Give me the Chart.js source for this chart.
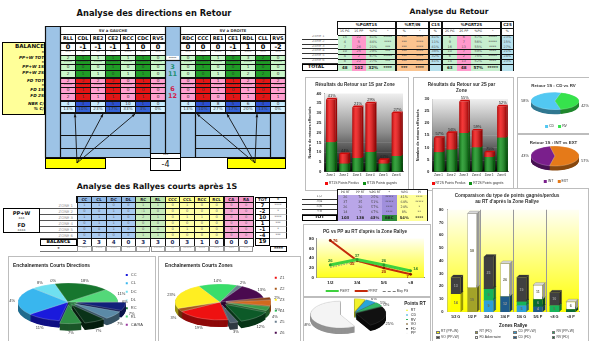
<!DOCTYPE html>
<html lang="fr">
<head>
<meta charset="utf-8">
<title>Analyse du Retour</title>
<script src="https://cdn.jsdelivr.net/npm/chart.js@4.4.1/dist/chart.umd.min.js"></script>
<style>
  html, body { margin: 0; padding: 0; background: #fff; }
  body { width: 589px; height: 341px; position: relative; overflow: hidden; font-family: "DejaVu Sans", Verdana, sans-serif; }
  .abs { position: absolute; box-sizing: border-box; }
  .cell { position: absolute; box-sizing: border-box; font-size: 4.2px; line-height: 1; color: #333;
          display: flex; align-items: center; justify-content: center; overflow: hidden; white-space: nowrap; }
  .txt { position: absolute; white-space: nowrap; line-height: 1; }
  .title { position: absolute; white-space: nowrap; font-weight: bold; font-size: 7.6px; line-height: 9px; transform: translateX(-50%); color: #111; }
  canvas { position: absolute; left: 0; top: 0; }
  svg { position: absolute; left: 0; top: 0; }
</style>
</head>
<body>
<script>
// ---------- Analyse des directions en Retour ----------
const dirColsLeft   = ['RLL', 'CDL', 'RE2', 'CE2', 'RCC', 'CDC', 'RVS'];
const dirColsRight  = ['RDC', 'CCC', 'RE1', 'CE1', 'RDL', 'CLL', 'RVS'];
const dirRowLabels  = ['BALANCE', '*', 'PP+W TOT', '*', 'PP+W 1S', 'PP+W 2S', 'FD TOT', '*', 'FD 1S', 'FD 2S', 'NBR C/', '% C/'];
const ppw1SLeft     = [0, 0, 0, 1, 0, 0, 0];
const ppw2SLeft     = [2, 1, 1, 0, 1, 1, 0];
const fd1SLeft      = [0, 1, 1, 1, 0, 0, 0];
const fd2SLeft      = [2, 1, 1, 1, 0, 1, 0];
const nbrCLeft      = [4, 3, 7, 5, 10, 1, 0];
const balStarsLeft  = ['***', '**', '**', '***', '****', '***', '***'];
const ppwStarsLeft  = ['****', '*****', '****', '*****', '****', '*****', '****'];
const fdStarsLeft   = ['****', '*****', '****', '*****', '****', '*****', '*****'];
const ppw1SRight    = [0, 1, 0, 0, 1, 0, 0];
const ppw2SRight    = [0, 0, 1, 0, 2, 2, 0];
const fd1SRight     = [0, 0, 1, 0, 1, 0, 1];
const fd2SRight     = [0, 1, 0, 1, 1, 2, 1];
const nbrCRight     = [4, 3, 8, 5, 6, 4, 0];
const balStarsRight = ['***', '***', '****', '***', '****', '***', '***'];
const ppwStarsRight = ['****', '*****', '****', '*****', '****', '*****', '****'];
const fdStarsRight  = ['*****', '*****', '****', '*****', '****', '*****', '****'];

// ---------- Analyse des Rallyes courts après 1S ----------
const rallyCols   = ['CC', 'CL', 'DC', 'DL', 'RC', 'RL', 'CCC', 'CCL', 'RCC', 'RCL', 'CA', 'RA'];
const rallyZones  = ['ZONE 1', 'ZONE 2', 'ZONE 3', 'ZONE 4', 'ZONE 5', 'ZONE 6'];
const rallyZone1  = [1, 1, 0, 0, 1, 1, 0, 1, 0, 0, 0, 0];
const rallyZone2  = [0, 0, 1, 0, -1, 0, 0, 0, 0, 0, 0, 0];
const rallyZone3  = [1, 1, 1, 0, 2, 1, 0, 1, 1, 0, 0, 0];
const rallyZone4  = [0, 1, 1, 0, 0, 0, 0, 0, 0, 0, 0, 0];
const rallyZone5  = [0, 0, 1, 0, 0, 0, 0, 1, 0, 0, 0, 0];
const rallyZone6  = [0, 0, 0, 0, 1, 1, 0, 0, 0, 0, 0, 0];
const rallyTot    = [7, -2, 10, 1, -1, -4];
const rallyTotStars = ['****', '*', '****', '***', '*', '***'];
const rallyColStars = ['***', '****', '****', '**', '*****', '*****', '**', '*****', '****', '***', '***', '***'];

// short-rally sequences (the legend lists the first seven directions)
const dirPieLabels = ['CC', 'CL', 'DC', 'DL', 'RC', 'RL', 'CA/RA', 'CCC', 'CCL', 'RCC', 'RCL'];
const dirPieValues = [11, 24, 8, 0, 18, 11, 0, 7, 7, 7, 7];
const zonePieLabels = ['Z1', 'Z2', 'Z3', 'Z4', 'Z5', 'Z6', 'Z1-2', 'Z2-3', 'Z3-4', 'Z4-5', 'Z5-6'];
const zonePieValues = [19, 3, 23, 14, 2, 13, 2, 5, 4, 12, 3];

// ---------- Analyse du Retour ----------
const retourZones = ['Zone 1', 'Zone 2', 'Zone 3', 'Zone 4', 'Zone 5', 'Zone 6'];
const pg1S = [15, 4, 7, 10, 4, 8];
const pp1S = [22, 5, 26, 25, 2, 22];
const pg2S = [8, 9, 16, 10, 6, 14];
const pp2S = [6, 7, 13, 7, 2, 13];
const pg1SStars = ['*****', '****', '***', '***', '*****', '***'];
const pg2SStars = ['*****', '*****', '****', '****', '*****', '****'];
const rtInPct   = ['***', '***', '***', '***', '***', '***'];
const rtInStars = ['****', '****', '****', '****', '****', '****'];
const c1SPct = ['41%', '11%', '41%', '38%', '32%', '41%'];
const c2SPct = ['23%', '15%', '27%', '21%', '24%', '23%'];
const cdVsRvLabels = ['CD', 'RV'];
const cdVsRv = [58, 42];
const intVsExtLabels = ['INT', 'EXT'];
const intVsExt = [43, 57];

const rallyGroups = ['1/2', '3/4', '5/6', '<8'];
const pgRT  = [26, 37, 26, 14];
const ppRT  = [76, 35, 20, 7];
const moyPG = [21, 33, 23, 12];
const pgRTStars = ['*****', '*****', '****', '****'];
const okPct   = ['41%', '64%', '24%', '8%'];
const okStars = ['****', '*****', '*', '**'];

const pointsRTLabels = ['RT', 'CD', 'RV', 'VO', 'FD', 'PP'];
const pointsRTValues = [6, 6, 5, 0, 25, 58];

const zoneRallyeCats = ['1/2 G', '1/2 P', '3/4 G', '3/4 P', '5/6 G', '5/6 P', '<8 G', '<8 P'];
const rtPPW  = [14, 0, 0, 0, 0, 0, 0, 0];
const rtFD   = [0, 19, 0, 0, 0, 0, 0, 0];
const cdPPW  = [0, 0, 9, 0, 5, 0, 0, 0];
const rvPPW  = [0, 0, 9, 0, 3, 0, 5, 0];
const cdFD   = [0, 0, 0, 12, 0, 4, 0, 0];
const rvFD   = [0, 0, 0, 0, 0, 6, 0, 2];
const voPPW  = [13, 0, 25, 0, 19, 0, 10, 0];
const fdAdv  = [0, 58, 0, 26, 0, 11, 0, 6];
const pointTypeLegend = ['RT (PP+W)', 'RT (FD)', 'CD (PP+W)', 'RV (PP+W)', 'VO (PP+W)', 'FD Adversaire', 'CD (FD)', 'RV (FD)'];

// ---------- helpers ----------
const sum = a => a.reduce((s, v) => s + v, 0);
const add = (a, b) => a.map((v, i) => v + b[i]);
const sub = (a, b) => a.map((v, i) => v - b[i]);
const pct = (a, b) => Math.round(a / b * 100) + '%';
const FONT = '"Liberation Sans", Arial, sans-serif';

function el(tag, cls, css, text, parent) {
  const d = document.createElement(tag);
  if (cls) d.className = cls;
  if (css) d.style.cssText = css;
  if (text != null) d.textContent = text;
  (parent || document.body).appendChild(d);
  return d;
}
function rect(x, y, w, h, css) {
  return el('div', 'abs', `left:${x}px;top:${y}px;width:${w}px;height:${h}px;${css || ''}`);
}
function cell(x, y, w, h, text, bg, css) {
  return el('div', 'cell', `left:${x}px;top:${y}px;width:${w}px;height:${h}px;background:${bg || 'transparent'};${css || ''}`, text);
}
function title(cx, y, t, size) {
  return el('div', 'title', `left:${cx}px;top:${y}px;font-size:${size}px;`, t);
}
function shade(c, f) {
  const m = /^#([0-9a-f]{6})$/i.exec(c);
  if (!m) return c;
  const n = parseInt(m[1], 16);
  const ch = s => Math.max(0, Math.min(255, Math.round(((n >> s) & 255) * f)));
  return `rgb(${ch(16)},${ch(8)},${ch(0)})`;
}
function isDark(c) {
  const m = /^#([0-9a-f]{6})$/i.exec(c);
  if (!m) return false;
  const n = parseInt(m[1], 16);
  return (0.3 * ((n >> 16) & 255) + 0.59 * ((n >> 8) & 255) + 0.11 * (n & 255)) < 110;
}
// one-row legend centred on cx, built from the chart's own labels and colours
function legendRow(items, cx, y, o) {
  const wrap = el('div', 'txt', `left:${cx}px;top:${y}px;display:flex;align-items:center;gap:${o.gap}px;transform:translateX(-50%);font-size:${o.size}px;color:#333;font-family:${FONT};`);
  items.forEach(it => {
    const s = el('span', null, 'display:flex;align-items:center;gap:1px;', null, wrap);
    const sw = it.dash
      ? `width:${o.bw}px;height:0;border-top:${o.bh}px dashed ${it.color};`
      : `width:${o.bw}px;height:${o.bh}px;background:${it.color};`;
    el('span', null, `display:inline-block;${sw}`, null, s);
    el('span', null, '', it.text, s);
  });
}
const datasetItems = chart => chart.data.datasets.map(d => ({ text: d.label, color: chart.config.type === 'line' ? d.borderColor : d.backgroundColor, dash: !!d.borderDash }));
const sliceItems = chart => chart.data.labels.map((l, i) => ({ text: l, color: chart.data.datasets[0].backgroundColor[i] }));

// ---------- Chart.js plugins ----------
Chart.defaults.font.family = FONT;
Chart.defaults.color = '#222';
Chart.defaults.animation = false;
const noGrid = { display: false, drawTicks: false };

// gradient plot background + optional group separators
const plotBg = {
  id: 'plotBg',
  beforeDatasetsDraw(chart, args, o) {
    if (!o || !o.stops) return;
    const { ctx, chartArea: a } = chart;
    const g = ctx.createLinearGradient(0, a.top, 0, a.bottom);
    o.stops.forEach(([p, c]) => g.addColorStop(p, c));
    ctx.save();
    ctx.fillStyle = g;
    ctx.fillRect(a.left, a.top, a.right - a.left, a.bottom - a.top);
    if (o.lines) {
      const ys = chart.scales.y;
      ctx.strokeStyle = o.lineColor;
      ctx.lineWidth = 0.6;
      o.lines.forEach(v => {
        const y = Math.round(ys.getPixelForValue(v)) + 0.5;
        ctx.beginPath(); ctx.moveTo(a.left, y); ctx.lineTo(a.right, y); ctx.stroke();
      });
    }
    if (o.separators) {
      const xs = chart.scales.x;
      ctx.strokeStyle = o.sepColor || '#9a9a9a';
      ctx.lineWidth = 1;
      o.separators.forEach(v => {
        const x = Math.round((xs.getPixelForValue(Math.floor(v)) + xs.getPixelForValue(Math.ceil(v))) / 2) + 0.5;
        ctx.beginPath(); ctx.moveTo(x, a.top); ctx.lineTo(x, a.bottom); ctx.stroke();
      });
    }
    ctx.restore();
  }
};

// side and top faces that give the bars some depth, plus an optional rounded shading
const bar3d = {
  id: 'bar3d',
  beforeDatasetsDraw(chart, args, o) {
    if (!o || !o.depth) return;
    const ctx = chart.ctx, d = o.depth;
    ctx.save();
    chart.getSortedVisibleDatasetMetas().forEach(meta => {
      const ds = chart.data.datasets[meta.index];
      meta.data.forEach((bar, i) => {
        if (!ds.data[i]) return;
        const { x, y, base, width } = bar.getProps(['x', 'y', 'base', 'width'], true);
        const l = x - width / 2, r = x + width / 2;
        const col = ds.backgroundColor;
        ctx.fillStyle = shade(col, 0.62);
        ctx.beginPath(); ctx.moveTo(r, y); ctx.lineTo(r + d, y - d); ctx.lineTo(r + d, base - d); ctx.lineTo(r, base); ctx.closePath(); ctx.fill();
        if (o.edge) { ctx.strokeStyle = o.edge; ctx.lineWidth = 0.4; ctx.stroke(); }
        ctx.fillStyle = shade(col, 0.85);
        ctx.beginPath(); ctx.moveTo(l, y); ctx.lineTo(l + d, y - d); ctx.lineTo(r + d, y - d); ctx.lineTo(r, y); ctx.closePath(); ctx.fill();
        if (o.edge) ctx.stroke();
      });
    });
    ctx.restore();
  },
  afterDatasetsDraw(chart, args, o) {
    if (!o || !o.round) return;
    const ctx = chart.ctx;
    ctx.save();
    chart.getSortedVisibleDatasetMetas().forEach(meta => {
      const ds = chart.data.datasets[meta.index];
      meta.data.forEach((bar, i) => {
        if (!ds.data[i]) return;
        const { x, y, base, width } = bar.getProps(['x', 'y', 'base', 'width'], true);
        const l = x - width / 2;
        const g = ctx.createLinearGradient(l, 0, l + width, 0);
        g.addColorStop(0, 'rgba(0,0,0,0.28)');
        g.addColorStop(0.35, 'rgba(255,255,255,0.18)');
        g.addColorStop(1, 'rgba(0,0,0,0.35)');
        ctx.fillStyle = g;
        ctx.fillRect(l, y, width, base - y);
      });
    });
    ctx.restore();
  }
};

// percentage of points won written above each stacked column
const stackPct = {
  id: 'stackPct',
  afterDatasetsDraw(chart, args, o) {
    if (!o || o.gain == null) return;
    const ctx = chart.ctx;
    const g = chart.data.datasets[o.gain].data, p = chart.data.datasets[o.loss].data;
    const bars = chart.getDatasetMeta(o.loss).data;
    ctx.save();
    ctx.font = `4px ${FONT}`;
    ctx.fillStyle = o.color || '#222';
    ctx.textAlign = 'center';
    ctx.textBaseline = 'bottom';
    bars.forEach((b, i) => {
      const t = g[i] + p[i];
      if (t) ctx.fillText(pct(g[i], t), b.x + 1, b.y - 1.5);
    });
    ctx.restore();
  }
};

// value written inside each stacked segment
const segLabels = {
  id: 'segLabels',
  afterDatasetsDraw(chart, args, o) {
    if (!o || !o.min) return;
    const ctx = chart.ctx;
    ctx.save();
    ctx.font = `bold 3.6px ${FONT}`;
    ctx.textAlign = 'center';
    ctx.textBaseline = 'middle';
    chart.getSortedVisibleDatasetMetas().forEach(meta => {
      const ds = chart.data.datasets[meta.index];
      meta.data.forEach((bar, i) => {
        const v = ds.data[i];
        if (!v || v < o.min) return;
        const { x, y, base } = bar.getProps(['x', 'y', 'base'], true);
        ctx.fillStyle = isDark(ds.backgroundColor) ? '#9a9a9a' : '#6a6a50';
        ctx.fillText(v, x, (y + base) / 2);
      });
    });
    ctx.restore();
  }
};

// values next to the points of the line chart
const lineLabels = {
  id: 'lineLabels',
  afterDatasetsDraw(chart, args, o) {
    if (!o || !o.sets) return;
    const ctx = chart.ctx;
    ctx.save();
    ctx.font = `bold 4.2px ${FONT}`;
    ctx.textAlign = 'center';
    ctx.textBaseline = 'middle';
    o.sets.forEach(s => {
      const ds = chart.data.datasets[s.index];
      chart.getDatasetMeta(s.index).data.forEach((pt, i) => {
        ctx.fillStyle = s.color;
        const off = s.offsets[i];
        ctx.fillText(ds.data[i], pt.x + off[0], pt.y + off[1]);
      });
    });
    ctx.restore();
  }
};

// tilted pie with a visible rim, exploded slices and % labels
const pie3d = {
  id: 'pie3d',
  beforeDatasetsDraw(chart, args, o) {
    if (!o || !o.tilt) return;
    const ctx = chart.ctx;
    const ds = chart.data.datasets[0];
    const arcs = chart.getDatasetMeta(0).data;
    if (!arcs.length) return;
    const tilt = o.tilt, depth = o.depth || 0;
    const explode = ds.explode || [];
    const colors = ds.backgroundColor;
    const cx = o.center ? o.center[0] : arcs[0].x, cy = o.center ? o.center[1] : arcs[0].y;
    const wedge = (a, i, dy) => {
      const mid = (a.startAngle + a.endAngle) / 2, e = explode[i] || 0;
      const ox = Math.cos(mid) * e, oy = Math.sin(mid) * e + dy;
      ctx.beginPath();
      ctx.moveTo(ox, oy);
      ctx.arc(ox, oy, a.outerRadius, a.startAngle, a.endAngle);
      ctx.closePath();
    };
    ctx.save();
    ctx.translate(cx, cy);
    ctx.scale(1, tilt);
    for (let d = depth; d > 0; d -= 0.5) {
      arcs.forEach((a, i) => {
        if (a.endAngle - a.startAngle <= 0) return;
        wedge(a, i, d / tilt);
        ctx.fillStyle = shade(colors[i], o.sideShade || 0.6);
        ctx.fill();
      });
    }
    arcs.forEach((a, i) => {
      if (a.endAngle - a.startAngle <= 0) return;
      wedge(a, i, 0);
      ctx.fillStyle = colors[i];
      ctx.fill();
      ctx.strokeStyle = o.edge || 'rgba(255,255,255,0.6)';
      ctx.lineWidth = 0.5;
      ctx.stroke();
    });
    ctx.restore();
    const total = sum(ds.data);
    ctx.save();
    ctx.font = `${o.labelSize || 4}px ${FONT}`;
    ctx.fillStyle = o.labelColor || '#333';
    ctx.textAlign = 'center';
    ctx.textBaseline = 'middle';
    arcs.forEach((a, i) => {
      const mid = (a.startAngle + a.endAngle) / 2, e = explode[i] || 0;
      const r = a.outerRadius + e + (o.labelGap || 6);
      const x = cx + Math.cos(mid) * r;
      let y = cy + Math.sin(mid) * r * tilt;
      if (Math.sin(mid) > 0) y += depth;
      ctx.fillText(pct(ds.data[i], total), x, y);
    });
    ctx.restore();
    return false;
  }
};
Chart.register(plotBg, bar3d, stackPct, segLabels, lineLabels, pie3d);

function chartBox(x, y, w, h, config, border) {
  const box = rect(x, y, w, h, `background:#fff;border:1px solid ${border || '#bdbdbd'};`);
  const c = document.createElement('canvas');
  c.width = w - 2; c.height = h - 2;
  c.style.width = (w - 2) + 'px'; c.style.height = (h - 2) + 'px';
  box.appendChild(c);
  config.options = Object.assign({ responsive: false, animation: false, devicePixelRatio: 1, events: [] }, config.options);
  return new Chart(c, config);
}

// ======================= LEFT : directions =======================
title(154, 9, 'Analyse des directions en Retour', 8.3);

rect(45, 26, 240, 131, 'background:#9dc3e6;');

// yellow label block
rect(2, 42, 43, 73, 'background:#ffff99;border:1px solid #000;');
const dirRowY = [43, 50, 55, 60, 64, 70, 78, 83, 87, 93, 101, 106];
const dirRowH = [7, 5, 5, 4, 6, 7, 5, 4, 6, 7, 5, 6];
dirRowLabels.forEach((lab, r) => {
  const big = r === 0;
  el('div', 'txt', `right:${589 - 44}px;top:${dirRowY[r] + (big ? 0.5 : 0.8)}px;font-size:${big ? 5.6 : 4.2}px;font-weight:bold;font-style:${big ? 'normal' : 'italic'};color:#111;`, lab);
});

function dirTable(x0, cols, head, d) {
  const cw = 15, w = cw * cols.length;
  rect(x0, 26, w + 1, 87, 'background:#111;');
  cell(x0 + 1, 27, w - 1, 7, head, '#fff', 'font-weight:bold;font-size:3.8px;');
  cols.forEach((c, i) => cell(x0 + 1 + i * cw, 35, cw - 1, 7, c, '#fff', 'font-weight:bold;font-size:5px;color:#111;'));
  const ppwTot = add(d.ppw1, d.ppw2), fdTot = add(d.fd1, d.fd2), bal = sub(ppwTot, fdTot);
  const nTot = sum(d.nbr);
  const rows = [
    [bal, 'w'], [d.balStars, 'w'], [ppwTot, 'g'], [d.ppwStars, 'g'], [d.ppw1, 'g'], [d.ppw2, 'g'],
    [fdTot, 'r'], [d.fdStars, 'r'], [d.fd1, 'r'], [d.fd2, 'r'], [d.nbr, 'b'], [d.nbr.map(v => pct(v, nTot)), 'c']
  ];
  const pal = { w: ['#fff', '#fff'], g: ['#c9f7c9', '#1f9c25'], r: ['#ff9fcf', '#e31515'], b: ['#c8ecff', '#2b4fd1'], c: ['#d9f3ff', '#3563d6'] };
  rows.forEach(([vals, k], r) => {
    vals.forEach((v, i) => {
      const bg = pal[k][i % 2];
      const css = r === 0 ? 'font-weight:bold;font-size:6.5px;color:#000;' : (bg === '#fff' ? 'font-size:3.6px;color:#555;' : 'color:#333;');
      cell(x0 + 1 + i * cw, dirRowY[r] + 1, cw - 1, dirRowH[r] - 1, String(v), bg, css);
    });
  });
}
dirTable(60, dirColsLeft, 'SV à GAUCHE', { ppw1: ppw1SLeft, ppw2: ppw2SLeft, fd1: fd1SLeft, fd2: fd2SLeft, nbr: nbrCLeft, balStars: balStarsLeft, ppwStars: ppwStarsLeft, fdStars: fdStarsLeft });
dirTable(180, dirColsRight, 'SV à DROITE', { ppw1: ppw1SRight, ppw2: ppw2SRight, fd1: fd1SRight, fd2: fd2SRight, nbr: nbrCRight, balStars: balStarsRight, ppwStars: ppwStarsRight, fdStars: fdStarsRight });

// centre column: totals of the two sides
const ppw1STotal = sum(ppw1SLeft) + sum(ppw1SRight), ppw2STotal = sum(ppw2SLeft) + sum(ppw2SRight);
const fd1STotal = sum(fd1SLeft) + sum(fd1SRight), fd2STotal = sum(fd2SLeft) + sum(fd2SRight);
cell(166, 56, 13, 4, '*****', '#fff', 'font-size:3px;');
cell(166, 64, 13, 7, String(ppw1STotal), 'transparent', 'font-weight:bold;font-size:6.5px;color:#1f8f6f;');
cell(166, 71, 13, 7, String(ppw2STotal), 'transparent', 'font-weight:bold;font-size:6.5px;color:#1f8f6f;');
cell(166, 86, 13, 7, String(fd1STotal), 'transparent', 'font-weight:bold;font-size:6.5px;color:#d0204a;');
cell(166, 93, 13, 7, String(fd2STotal), 'transparent', 'font-weight:bold;font-size:6.5px;color:#d0204a;');

// balance box under the centre column
rect(150, 153, 31, 18, 'background:#fff;border:1px solid #000;');
cell(151, 154, 29, 5, '***', '#fff', 'font-size:3.5px;border-bottom:1px solid #000;');
cell(151, 159, 29, 11, String(ppw1STotal + ppw2STotal - fd1STotal - fd2STotal), '#fff', 'font-size:8px;color:#111;');

// yellow targets
rect(45, 158, 61, 11, 'background:#ffff00;border:1px solid #000;');
rect(227, 158, 59, 11, 'background:#ffff00;border:1px solid #000;');

// frame lines and arrows of the direction diagram
(function () {
  const NS = 'http://www.w3.org/2000/svg';
  const svg = document.createElementNS(NS, 'svg');
  svg.setAttribute('width', 589); svg.setAttribute('height', 341);
  const line = (x1, y1, x2, y2, w) => {
    const l = document.createElementNS(NS, 'line');
    l.setAttribute('x1', x1); l.setAttribute('y1', y1); l.setAttribute('x2', x2); l.setAttribute('y2', y2);
    l.setAttribute('stroke', '#111'); l.setAttribute('stroke-width', w || 1);
    svg.appendChild(l);
  };
  [[45.5, 26, 45.5, 158], [60.5, 26, 60.5, 158], [165.5, 26, 165.5, 153], [180.5, 26, 180.5, 153], [285.5, 26, 285.5, 158],
   [150.5, 113, 150.5, 153], [195.5, 113, 195.5, 158], [270.5, 113, 270.5, 158]].forEach(a => line(...a, 1.2));
  [[45, 26.5, 286, 26.5], [60, 113.5, 165, 113.5], [180, 113.5, 285, 113.5], [60, 135.5, 150, 135.5], [60, 148.5, 150, 148.5],
   [195, 135.5, 270, 135.5], [195, 148.5, 270, 148.5], [45, 157.5, 150, 157.5], [180, 157.5, 286, 157.5], [165, 60.5, 180, 60.5]].forEach(a => line(...a, 1.2));
  const arrow = (x1, y1, x2, y2) => {
    line(x1, y1, x2, y2, 0.9);
    const ang = Math.atan2(y2 - y1, x2 - x1), s = 3.5;
    const p = document.createElementNS(NS, 'path');
    p.setAttribute('d', `M${x2},${y2} L${x2 - s * Math.cos(ang - 0.4)},${y2 - s * Math.sin(ang - 0.4)} L${x2 - s * Math.cos(ang + 0.4)},${y2 - s * Math.sin(ang + 0.4)} Z`);
    p.setAttribute('fill', '#111');
    svg.appendChild(p);
  };
  [[75, 114], [103, 114], [135, 114]].forEach(([x, y]) => arrow(77, 163, x, y));
  [[197, 114], [227, 114], [257, 114]].forEach(([x, y]) => arrow(255, 163, x, y));
  document.body.appendChild(svg);
})();

// ======================= LEFT : rallyes courts =======================
title(157, 182, 'Analyse des Rallyes courts après 1S', 7.9);

(function () {
  const x0 = 77, cw = 14.7, zones = [rallyZone1, rallyZone2, rallyZone3, rallyZone4, rallyZone5, rallyZone6];
  const grp = ['b', 'b', 'b', 'b', 'g', 'g', 'y', 'y', 'y', 'y', 'p', 'p'];
  const head = { b: '#8fb8e6', g: '#b9e3a9', y: '#ffff8a', p: '#f597c9' };
  const body = { b: '#a9cbf0', g: '#c8ecbc', y: '#ffffa6', p: '#f8a9d3' };
  const balance = rallyCols.map((c, i) => sum(zones.map(z => z[i])));
  rect(x0 - 1, 196, cw * 12 + 2, 51, 'background:#111;');
  rallyCols.forEach((c, i) => cell(x0 + i * cw + 0.5, 197, cw - 1, 5, c, head[grp[i]], 'font-weight:bold;font-size:4px;color:#223;'));
  zones.forEach((z, r) => {
    cell(40, 203 + r * 6, 37, 6, rallyZones[r], '#fff', 'font-size:3.8px;color:#999;justify-content:flex-end;padding-right:4px;border-bottom:1px solid #555;');
    z.forEach((v, i) => cell(x0 + i * cw + 0.5, 203 + r * 6, cw - 1, 5, String(v), body[grp[i]], 'font-size:3.6px;color:#667;'));
    cell(255, 203 + r * 6, 15, 6, String(rallyTot[r]), '#fff', 'font-weight:bold;font-size:5.2px;color:#111;border:1px solid #000;border-top:none;');
    cell(270, 203 + r * 6, 17, 6, rallyTotStars[r], '#fff', 'font-size:3.4px;color:#777;border-right:1px solid #000;border-bottom:1px solid #bbb;');
  });
  cell(255, 197, 15, 6, 'TOT', '#fff', 'font-weight:bold;font-size:4px;border:1px solid #000;');
  cell(270, 197, 17, 6, '*', '#fff', 'font-weight:bold;font-size:4px;border:1px solid #000;border-left:none;');
  cell(40, 239, 37, 7, 'BALANCE', '#fff', 'font-weight:bold;font-size:4.6px;color:#000;border:1px solid #000;');
  balance.forEach((v, i) => cell(x0 + i * cw + 0.5, 239, cw - 1, 7, String(v), '#fff', 'font-weight:bold;font-size:5.5px;color:#1a2a5a;'));
  cell(255, 239, 15, 7, String(sum(balance)), '#fff', 'font-weight:bold;font-size:5.5px;color:#000;border:1px solid #000;border-top:none;');
  cell(40, 246, 37, 6, '*', '#fff', 'font-weight:bold;font-size:4px;border-bottom:1px solid #777;');
  rallyColStars.forEach((s, i) => cell(x0 + i * cw, 246, cw, 6, s, '#fff', 'font-size:3.2px;color:#888;border:0.5px solid #999;'));
  cell(270, 246, 17, 6, '****', '#fff', 'font-weight:bold;font-size:4.4px;color:#111;border:1px solid #000;');

  const lg = rect(3, 208, 37, 25, 'background:#fff;border:1px solid #000;');
  [['PP+W', 'bold 5.2px', 1], ['***', '4px', 7], ['FD', 'bold 5.2px', 12.5], ['****', '4px', 18.5]].forEach(([t, f, y]) =>
    el('div', 'txt', `left:0;width:35px;text-align:center;top:${y}px;font:${f} "DejaVu Sans",sans-serif;color:#111;`, t, lg));
})();

// ---------- pies of the short rallies ----------
chartBox(8, 256, 148, 130, {
  type: 'pie',
  data: { labels: dirPieLabels, datasets: [{ data: dirPieValues,
    backgroundColor: ['#1a1adc', '#39b6ee', '#6fe0f0', '#c9f4f6', '#17762e', '#53d879', '#9a3a9e', '#12207a', '#5b8aa6', '#0a3319', '#2f8f45'],
    explode: [0, 0, 0, 0, 0, 0, 0, 8, 8, 8, 7] }] },
  options: {
    radius: 50, rotation: 190,
    layout: { padding: { left: 4, right: 2, top: 0, bottom: 0 } },
    plugins: {
      title: { display: true, text: 'Enchaînements Courts Directions', align: 'start', font: { size: 4.8, weight: 'bold' }, padding: { top: 6, bottom: 0 } },
      legend: { position: 'right', align: 'start', fullSize: false, labels: { boxWidth: 4, boxHeight: 4, font: { size: 4 }, color: '#444', padding: 4.3, filter: item => item.index < 7 } },
      pie3d: { tilt: 0.38, depth: 7, labelGap: 7, center: [59, 45] }
    }
  }
});
chartBox(158, 256, 143, 180, {
  type: 'pie',
  data: { labels: zonePieLabels, datasets: [{ data: zonePieValues,
    backgroundColor: ['#ee1111', '#a8581a', '#ffee22', '#39dd6a', '#6b7f8f', '#4a0a4f', '#8a3a10', '#d2691e', '#3a9a4a', '#0d5a28', '#506070'],
    explode: [0, 0, 0, 0, 0, 0, 6, 6, 6, 8, 8] }] },
  options: {
    radius: 45, rotation: 170,
    layout: { padding: { left: 6, right: 2, top: 0, bottom: 0 } },
    plugins: {
      title: { display: true, text: 'Enchaînements Courts Zones', align: 'start', font: { size: 4.8, weight: 'bold' }, padding: { top: 6, bottom: 0 } },
      legend: { position: 'right', align: 'start', fullSize: false, labels: { boxWidth: 4, boxHeight: 4, font: { size: 4 }, color: '#444', padding: 7 } },
      pie3d: { tilt: 0.4, depth: 7, labelGap: 7, center: [61, 45] }
    }
  }
});

// ======================= RIGHT : retour =======================
title(449, 7, 'Analyse du Retour', 7.6);

(function () {
  const rowsY = [35, 39.8, 44.6, 49.4, 54.2, 59];
  const G = '#c6efce', P = '#ff99cc', O = '#fbc48f', B = '#b7e1ed';
  const groups = [
    { x: 338, ws: [14, 14, 15, 14], head: '%PGRT1S', sub: ['1S PG', '1S PP', '%PG', '*'], bg: [G, P, G, G] },
    { x: 397, ws: [15, 16], head: '%RT/IN', sub: ['%', '*'], bg: [O, O] },
    { x: 430, ws: [11], head: 'C1S', sub: ['%'], bg: [B] },
    { x: 443, ws: [14, 14, 15, 14], head: '%PGRT2S', sub: ['2S PG', '2S PP', '%PG', '*'], bg: [G, P, G, G] },
    { x: 502, ws: [11], head: 'C2S', sub: ['%'], bg: [B] }
  ];
  const cols = [
    [pg1S, pp1S, pg1S.map((v, i) => pct(v, v + pp1S[i])), pg1SStars],
    [rtInPct, rtInStars],
    [c1SPct],
    [pg2S, pp2S, pg2S.map((v, i) => pct(v, v + pp2S[i])), pg2SStars],
    [c2SPct]
  ];
  const totals = [
    [sum(pg1S), sum(pp1S), pct(sum(pg1S), sum(pg1S) + sum(pp1S)), '****'],
    ['***', '****'], [''],
    [sum(pg2S), sum(pp2S), pct(sum(pg2S), sum(pg2S) + sum(pp2S)), '*****'], ['']
  ];
  groups.forEach((g, gi) => {
    const w = sum(g.ws);
    rect(g.x - 1, 21, w + 2, 50, 'background:#111;');
    cell(g.x, 22, w, 6, g.head, '#fff', 'font-weight:bold;font-size:4px;color:#111;');
    let x = g.x;
    g.ws.forEach((cw, ci) => {
      cell(x, 28.5, cw - 0.5, 6, g.sub[ci], '#fff', 'font-size:3.2px;color:#333;');
      cols[gi][ci].forEach((v, r) => cell(x, rowsY[r] + 0.5, cw - 0.5, 4.3, String(v), g.bg[ci], 'font-size:3.4px;color:#555;'));
      cell(x, 64.5, cw - 0.5, 6, String(totals[gi][ci]), g.bg[ci], 'font-weight:bold;font-size:4px;color:#222;');
      x += cw;
    });
  });
  retourZones.forEach((z, r) => cell(302, rowsY[r], 36, 4.8, z, '#fff', 'font-size:3.6px;color:#888;justify-content:flex-start;padding-left:10px;border-bottom:1px solid #333;'));
  cell(302, 64, 36, 7, 'TOTAL', '#fff', 'font-weight:bold;font-size:4.6px;color:#111;justify-content:flex-start;padding-left:5px;border:1px solid #000;');
})();

function retourBar(x, w, titleText, gains, losses, max, n) {
  const ch = chartBox(x, 77, w, 114, {
    type: 'bar',
    data: { labels: retourZones, datasets: [
      { label: `RT${n}S Points gagnés`, data: gains, backgroundColor: '#0d8f16', stack: 's' },
      { label: `RT${n}S Points Perdus`, data: losses, backgroundColor: '#f20c0c', stack: 's' }
    ] },
    options: {
      layout: { padding: { left: 1, right: 5, top: 0, bottom: 11 } },
      datasets: { bar: { barPercentage: 0.72, categoryPercentage: 1 } },
      scales: {
        x: { stacked: true, grid: noGrid, border: { color: '#777' }, ticks: { font: { size: 2.8 }, padding: 2, maxRotation: 0, autoSkip: false } },
        y: { stacked: true, min: 0, max, border: { color: '#777' }, grid: noGrid,
             ticks: { stepSize: 5, font: { size: 4.2, weight: 'bold' }, padding: 3 },
             title: { display: true, text: 'Nombre de retours effectués', font: { size: 3.8, weight: 'bold' }, padding: 1 } }
      },
      plugins: {
        title: { display: true, text: titleText, font: { size: 4.6, weight: 'bold' }, padding: { top: 4, bottom: 6 }, color: '#333' },
        legend: { display: false },
        plotBg: { stops: [[0, '#efefef'], [0.5, '#8c8c8c'], [1, '#030303']], lines: [5, 10, 15], lineColor: 'rgba(255,255,255,0.18)' },
        bar3d: { depth: 1.6, round: true },
        stackPct: { gain: 0, loss: 1 }
      }
    }
  });
  legendRow(datasetItems(ch).reverse(), x + w / 2 + 4, 181.5, { gap: 4, size: 3.3, bw: 3, bh: 3 });
  return ch;
}
retourBar(305, 104, 'Résultats du Retour sur 1S par Zone', pg1S, pp1S, 40, 1);
retourBar(413, 101, ['Résultats du Retour sur 2S par', 'Zone'], pg2S, pp2S, 30, 2);

function smallPie(y, titleText, labels, values, colors, rotation, center, tilt, legendY) {
  const ch = chartBox(517, y, 73, 57, {
    type: 'pie',
    data: { labels, datasets: [{ data: values, backgroundColor: colors }] },
    options: {
      radius: 24, rotation,
      plugins: {
        title: { display: true, text: titleText, font: { size: 4.4, weight: 'bold' }, padding: { top: 5, bottom: 2 }, color: '#333' },
        legend: { display: false },
        pie3d: { tilt, depth: 4.5, labelGap: 6, labelSize: 3.8, center }
      }
    }
  });
  legendRow(sliceItems(ch), 556, legendY, { gap: 4, size: 3.5, bw: 3, bh: 3 });
  return ch;
}
smallPie(77, 'Retour 1S : CD vs RV', cdVsRvLabels, cdVsRv, ['#52c8f2', '#36e24c'], 166, [37, 23], 0.36, 125);
smallPie(134, 'Retour 1S : INT vs EXT', intVsExtLabels, intVsExt, ['#7a1f8c', '#e57a19'], 193, [37, 21], 0.42, 180);

// ---------- table of the rally zones ----------
(function () {
  const P1 = '#b9a6e8', P2 = '#a08fdc', Y = '#ffff99';
  const xs = [338, 353, 368, 382, 397, 412, 427];
  const heads = ['PG RT', 'PP RT', '%PG RT', '*', '%PG', 'PI'];
  const bgs = [P1, P1, P1, P2, Y, Y];
  const rowsY = [195, 200, 205, 210];
  const cols = [pgRT, ppRT, pgRT.map((v, i) => pct(v, v + ppRT[i])), pgRTStars, okPct, okStars];
  const tot = [sum(pgRT), sum(ppRT), pct(sum(pgRT), sum(pgRT) + sum(ppRT)), 'BBC', '54%', '****'];
  rect(337, 189, 91, 32, 'background:#111;');
  heads.forEach((h, i) => {
    const w = xs[i + 1] - xs[i] - 0.5;
    cell(xs[i], 190, w, 4.5, h, '#fff', 'font-size:3px;color:#333;');
    cols[i].forEach((v, r) => cell(xs[i], rowsY[r], w, 4.5, String(v), bgs[i], 'font-size:3.3px;color:#444;'));
    cell(xs[i], 215, w, 5.5, String(tot[i]), i === 3 ? '#2d8a3a' : bgs[i], 'font-weight:bold;font-size:3.8px;color:#222;');
  });
  rallyGroups.forEach((g, r) => cell(302, rowsY[r] - 0.5, 35, 5, g, '#fff', 'font-size:3.6px;color:#666;border-bottom:1px solid #333;'));
  cell(302, 214.5, 35, 6, 'TOT', '#fff', 'font-weight:bold;font-size:4.4px;color:#111;border:1px solid #000;');
})();

// ---------- PG vs PP line chart ----------
const lineChart = chartBox(303, 224, 128, 73, {
  type: 'line',
  data: { labels: rallyGroups, datasets: [
    { label: 'PG/RT', data: pgRT, borderColor: '#3ed13e', backgroundColor: '#3ed13e', borderWidth: 3, pointRadius: 1.4, pointHoverRadius: 0, pointBackgroundColor: '#2a9a2a', pointBorderWidth: 0 },
    { label: 'PP/RT', data: ppRT, borderColor: '#c42a0a', backgroundColor: '#c42a0a', borderWidth: 2, pointRadius: 1.4, pointHoverRadius: 0, pointBackgroundColor: '#8a1a00', pointBorderWidth: 0 },
    { label: 'Moy PG', data: moyPG, borderColor: '#7a7a7a', backgroundColor: '#ffffff', borderWidth: 0.8, borderDash: [1.5, 1.2], pointRadius: 0, pointHoverRadius: 0 }
  ] },
  options: {
    layout: { autoPadding: false, padding: { left: 2, right: 6, top: 0, bottom: 9 } },
    scales: {
      x: { offset: true, grid: noGrid, border: { color: '#888' }, ticks: { font: { size: 4.4, weight: 'bold' }, padding: 2, maxRotation: 0, autoSkip: false } },
      y: { min: 0, max: 80, grid: noGrid, border: { color: '#888' }, ticks: { stepSize: 20, font: { size: 4.4, weight: 'bold' }, padding: 3, autoSkip: false } }
    },
    plugins: {
      title: { display: true, text: "PG vs PP au RT d'après la Zone Rallye", font: { size: 4.6, weight: 'bold' }, padding: { top: 4, bottom: 4 }, color: '#333' },
      legend: { display: false },
      plotBg: { stops: [[0, '#fffff2'], [1, '#ffff1a']] },
      lineLabels: { sets: [
        { index: 0, color: '#2a7a2a', offsets: [[0, -4], [0, -4], [0, -4], [5, -2]] },
        { index: 1, color: '#a02000', offsets: [[5, 0], [-5, 3], [0, 4], [-3, 3]] }
      ] }
    }
  }
});
legendRow(datasetItems(lineChart), 367, 289.5, { gap: 5, size: 3.2, bw: 13, bh: 1.6 });

// ---------- Points RT pie ----------
chartBox(303, 297, 128, 50, {
  type: 'pie',
  data: { labels: pointsRTLabels, datasets: [{ data: pointsRTValues,
    backgroundColor: ['#f2f22a', '#2aa5d8', '#2fb866', '#6a4a10', '#111111', '#f4f4f4'],
    explode: [2, 2, 2, 2, 2, 14] }] },
  options: {
    radius: 30, rotation: 0,
    layout: { padding: { left: 14, right: 4, top: 2, bottom: 2 } },
    plugins: {
      title: { display: false },
      legend: { position: 'right', align: 'start', title: { display: true, text: 'Points RT', font: { size: 4.6, weight: 'bold' }, padding: 1 },
                labels: { boxWidth: 4, boxHeight: 3, font: { size: 3.6 }, padding: 1 } },
      pie3d: { tilt: 0.45, depth: 6, labelGap: 5, edge: 'rgba(120,120,120,0.5)', center: [50, 15] }
    }
  }
});

// ---------- point types per rally zone ----------
const pointTypeChart = chartBox(432, 188, 157, 154, {
  type: 'bar',
  data: { labels: zoneRallyeCats, datasets: [
    { label: 'RT (PP+W)', data: rtPPW, backgroundColor: '#ffff00' },
    { label: 'RT (FD)', data: rtFD, backgroundColor: '#a3a329' },
    { label: 'CD (PP+W)', data: cdPPW, backgroundColor: '#2f9fd8' },
    { label: 'RV (PP+W)', data: rvPPW, backgroundColor: '#16b45a' },
    { label: 'CD (FD)', data: cdFD, backgroundColor: '#1f5b8c' },
    { label: 'RV (FD)', data: rvFD, backgroundColor: '#0b6b32' },
    { label: 'VO (PP+W)', data: voPPW, backgroundColor: '#404040' },
    { label: 'FD Adversaire', data: fdAdv, backgroundColor: '#ffffff', borderColor: '#666', borderWidth: 0.5 }
  ] },
  options: {
    layout: { padding: { left: 2, right: 9, top: 0, bottom: 13 } },
    datasets: { bar: { barPercentage: 0.58, categoryPercentage: 1 } },
    scales: {
      x: { stacked: true, grid: noGrid, border: { color: '#999' }, ticks: { font: { size: 3.8, weight: 'bold' }, padding: 3, maxRotation: 0, autoSkip: false },
           title: { display: true, text: 'Zones Rallye', font: { size: 4.6, weight: 'bold' }, padding: 0 } },
      y: { stacked: true, min: 0, max: 80, grid: noGrid, border: { color: '#999' }, ticks: { stepSize: 10, font: { size: 4, weight: 'bold' }, padding: 4 } }
    },
    plugins: {
      title: { display: true, text: ['Comparaison du type de points gagnés/perdus', "au RT d'après la Zone Rallye"], font: { size: 4.7, weight: 'bold', lineHeight: 1.25 }, padding: { top: 4, bottom: 5 }, color: '#333' },
      legend: { display: false },
      plotBg: { stops: [[0, '#fffff4'], [1, '#ffff00']], separators: [1.5, 3.5, 5.5] },
      bar3d: { depth: 2.5, edge: 'rgba(60,60,60,0.5)' },
      segLabels: { min: 4 }
    }
  }
});
// legend of the point types, four entries per row
pointTypeChart.data.datasets
  .map(d => ({ text: d.label, color: d.backgroundColor }))
  .sort((a, b) => pointTypeLegend.indexOf(a.text) - pointTypeLegend.indexOf(b.text))
  .forEach((it, k) => {
    const x = 436 + (k % 4) * 38.5, y = 330 + Math.floor(k / 4) * 5.5;
    rect(x, y + 0.5, 3.5, 3, `background:${it.color};border:0.5px solid #777;`);
    el('div', 'txt', `left:${x + 5}px;top:${y}px;font-size:3.4px;color:#333;font-family:${FONT};`, it.text);
  });
</script>
</body>
</html>
